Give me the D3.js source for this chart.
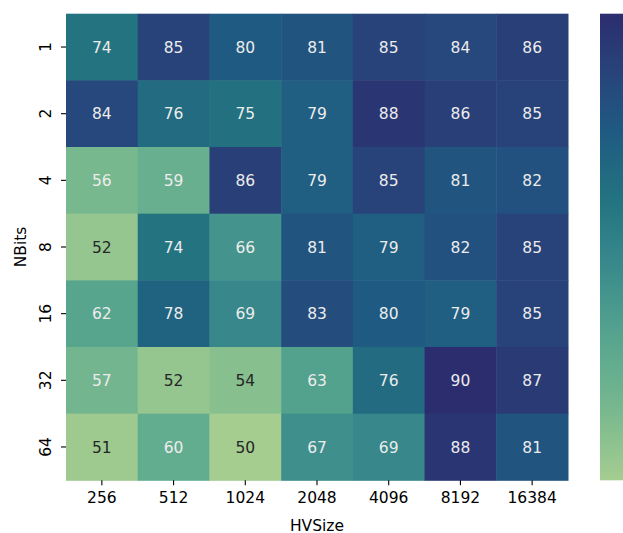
<!DOCTYPE html>
<html>
<head>
<meta charset="utf-8">
<script src="https://cdn.jsdelivr.net/npm/d3@7"></script>
<style>
  html, body { margin: 0; padding: 0; background: #ffffff; }
  svg { display: block; font-family: "DejaVu Sans", sans-serif; }
</style>
</head>
<body>
<svg id="chart" width="623" height="533"></svg>
<script>
// Accuracy (%) by hypervector size (columns) and bit width (rows)
const hvSizes = ["256", "512", "1024", "2048", "4096", "8192", "16384"];
const nBits = ["1", "2", "4", "8", "16", "32", "64"];
const values = [
  [74, 85, 80, 81, 85, 84, 86],
  [84, 76, 75, 79, 88, 86, 85],
  [56, 59, 86, 79, 85, 81, 82],
  [52, 74, 66, 81, 79, 82, 85],
  [62, 78, 69, 83, 80, 79, 85],
  [57, 52, 54, 63, 76, 90, 87],
  [51, 60, 50, 67, 69, 88, 81]
];
// "crest"-style palette, light green to deep indigo
const crestStops = ["#a5cd90", "#78b88f", "#62ac8f", "#53a28e", "#3f8f8d",
                    "#33838a", "#237480", "#1f5a82", "#28437a", "#2c2d6e"];
const crestPos = [0, 0.15, 0.25, 0.325, 0.425, 0.5, 0.6, 0.75, 0.875, 1];

const FS = 15.5;
const svg = d3.select("#chart");
const m = { left: 66, top: 13.7, right: 568, bottom: 480.3 };

const x = d3.scaleBand().domain(hvSizes).range([m.left, m.right]);
const y = d3.scaleBand().domain(nBits).range([m.top, m.bottom]);

const all = values.flat();
const vmin = d3.min(all), vmax = d3.max(all);
const norm = d3.scaleLinear().domain([vmin, vmax]).range([0, 1]).clamp(true);
const crest = d3.scaleLinear().domain(crestPos).range(crestStops)
  .interpolate(d3.interpolateRgb);
const color = v => crest(norm(v));

function luminance(c) {
  const rgb = d3.rgb(c);
  const f = u => { u /= 255; return u <= 0.03928 ? u / 12.92 : Math.pow((u + 0.055) / 1.055, 2.4); };
  return 0.2126 * f(rgb.r) + 0.7152 * f(rgb.g) + 0.0722 * f(rgb.b);
}

const cells = [];
values.forEach((row, i) => row.forEach((v, j) => cells.push({ r: nBits[i], c: hvSizes[j], v })));

svg.append("g").selectAll("rect").data(cells).join("rect")
  .attr("x", d => x(d.c))
  .attr("y", d => y(d.r))
  .attr("width", x.bandwidth() + 0.5)
  .attr("height", y.bandwidth() + 0.5)
  .attr("fill", d => color(d.v));

svg.append("g").selectAll("text").data(cells).join("text")
  .attr("x", d => x(d.c) + x.bandwidth() / 2)
  .attr("y", d => y(d.r) + y.bandwidth() / 2)
  .attr("text-anchor", "middle")
  .attr("dy", "0.36em")
  .attr("font-size", FS)
  .attr("fill", d => luminance(color(d.v)) > 0.408 ? "#262626" : "#ececec")
  .text(d => d.v);

// x axis
const xAxis = svg.append("g")
  .attr("transform", `translate(0,${m.bottom})`)
  .call(d3.axisBottom(x).tickSize(5).tickPadding(7));
xAxis.select(".domain").remove();
xAxis.selectAll("line").attr("stroke", "#000").attr("stroke-width", 1.1);
xAxis.selectAll("text").attr("font-size", FS).attr("fill", "#000")
  .attr("font-family", "DejaVu Sans, sans-serif");

// y axis with rotated tick labels
const yAxis = svg.append("g")
  .attr("transform", `translate(${m.left},0)`)
  .call(d3.axisLeft(y).tickSize(5).tickPadding(6));
yAxis.select(".domain").remove();
yAxis.selectAll("line").attr("stroke", "#000").attr("stroke-width", 1.1);
yAxis.selectAll("text").attr("font-size", FS).attr("fill", "#000")
  .attr("font-family", "DejaVu Sans, sans-serif")
  .attr("x", null)
  .attr("text-anchor", "middle")
  .attr("transform", "translate(-21,0) rotate(-90)")
  .attr("y", 0)
  .attr("dy", "0.36em");

// axis titles
svg.append("text")
  .attr("x", (m.left + m.right) / 2).attr("y", 531)
  .attr("text-anchor", "middle").attr("font-size", FS).attr("fill", "#000")
  .text("HVSize");
svg.append("text")
  .attr("transform", `translate(26,${(m.top + m.bottom) / 2}) rotate(-90)`)
  .attr("text-anchor", "middle").attr("font-size", FS).attr("fill", "#000")
  .text("NBits");

// colour bar
const defs = svg.append("defs");
const grad = defs.append("linearGradient").attr("id", "cbar")
  .attr("x1", 0).attr("y1", 1).attr("x2", 0).attr("y2", 0);
d3.range(0, 1.0001, 0.05).forEach(t => {
  grad.append("stop").attr("offset", t).attr("stop-color", crest(t));
});
const cbY = d3.scaleLinear().domain([vmin, vmax]).range([m.bottom, m.top]);
svg.append("rect")
  .attr("x", 600).attr("y", cbY(vmax))
  .attr("width", 40).attr("height", cbY(vmin) - cbY(vmax))
  .attr("fill", "url(#cbar)");
</script>
</body>
</html>
